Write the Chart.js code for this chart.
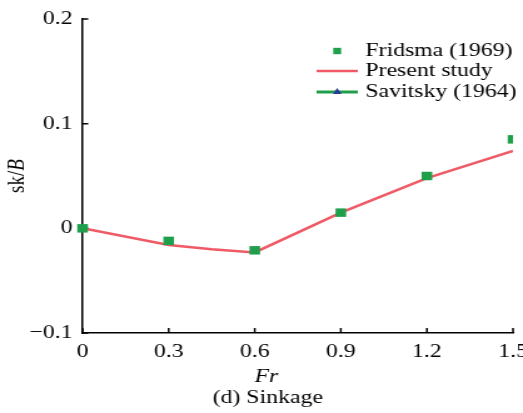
<!DOCTYPE html>
<html>
<head>
<meta charset="utf-8">
<script src="https://cdn.jsdelivr.net/npm/chart.js@4/dist/chart.umd.min.js"></script>
<style>
  html, body { margin: 0; padding: 0; background: #fff; }
  canvas { display: block; }
</style>
</head>
<body>
<canvas id="sinkageChart"></canvas>
<script>
// Froude number vs. non-dimensional sinkage
const fridsmaFr = [0, 0.3, 0.6, 0.9, 1.2, 1.5];
const fridsmaSinkage = [0, -0.012, -0.021, 0.015, 0.050, 0.085];

const presentFr = [0, 0.3, 0.45, 0.6, 0.9, 1.2, 1.5];
const presentSinkage = [0, -0.016, -0.020, -0.023, 0.015, 0.048, 0.074];

const savitskyFr = [];
const savitskySinkage = [];

const xTicks = [0, 0.3, 0.6, 0.9, 1.2, 1.5];
const yTicks = [-0.1, 0, 0.1, 0.2];

const GREEN = '#1f9f4c';
const RED = '#ef5a66';
const BLUE = '#2a3a9a';
const SERIF = '"Liberation Serif", "Times New Roman", serif';

// the figure is drawn narrow and shown stretched wide
const STRETCH = 1.25;
const canvas = document.getElementById('sinkageChart');
canvas.width = Math.round(523 / STRETCH);
canvas.height = 413;
canvas.style.width = '523px';
canvas.style.height = '413px';

const toPoints = (xs, ys) => xs.map((x, i) => ({ x: x, y: ys[i] }));
const fmt = v => (v === 0 ? '0' : v.toFixed(1).replace('-', '\u2212'));

// inward ticks, in-plot legend and axis captions
const decor = {
  id: 'decor',
  beforeDatasetsDraw(chart) {
    const { ctx, chartArea: a, scales: { x, y } } = chart;
    ctx.save();
    ctx.strokeStyle = '#000';
    ctx.lineWidth = 1.5;
    ctx.beginPath();
    x.ticks.forEach(t => {
      const px = x.getPixelForValue(t.value);
      ctx.moveTo(px, a.bottom);
      ctx.lineTo(px, a.bottom - 5);
    });
    y.ticks.forEach(t => {
      const py = y.getPixelForValue(t.value);
      ctx.moveTo(a.left, py);
      ctx.lineTo(a.left + 4.5, py);
    });
    ctx.stroke();
    ctx.restore();
  },
  afterDraw(chart) {
    const { ctx } = chart;
    ctx.save();

    // legend
    const x0 = 253, x1 = 286, tx = 292;
    const rows = [51, 71, 92];
    chart.data.datasets.forEach((ds, i) => {
      const cy = rows[i];
      if (ds.showLine !== false) {
        ctx.strokeStyle = ds.borderColor;
        ctx.lineWidth = ds.borderWidth;
        ctx.beginPath();
        ctx.moveTo(x0, cy);
        ctx.lineTo(x1, cy);
        ctx.stroke();
      }
      if (ds.legendRadius) {
        ctx.fillStyle = ds.pointBackgroundColor || ds.backgroundColor;
        Chart.helpers.drawPoint(ctx, {
          pointStyle: ds.pointStyle, radius: ds.legendRadius, borderWidth: 0
        }, (x0 + x1) / 2, cy);
      }
      ctx.fillStyle = '#000';
      ctx.font = '19px ' + SERIF;
      ctx.textAlign = 'left';
      ctx.textBaseline = 'middle';
      ctx.fillText(ds.label, tx, cy);
    });

    // x caption
    ctx.fillStyle = '#000';
    ctx.textAlign = 'center';
    ctx.textBaseline = 'middle';
    ctx.font = 'italic 19px ' + SERIF;
    ctx.fillText('Fr', 213, 377);
    ctx.font = '19px ' + SERIF;
    ctx.fillText('(d) Sinkage', 214, 398);

    // y caption: sk/B with italic B
    ctx.translate(14, 176);
    ctx.rotate(-Math.PI / 2);
    const up = '19px ' + SERIF, it = 'italic 19px ' + SERIF;
    ctx.font = up;
    const w1 = ctx.measureText('sk/').width;
    ctx.font = it;
    const w2 = ctx.measureText('B').width;
    ctx.textAlign = 'left';
    ctx.font = up;
    ctx.fillText('sk/', -(w1 + w2) / 2, 0);
    ctx.font = it;
    ctx.fillText('B', -(w1 + w2) / 2 + w1, 0);

    ctx.restore();
  }
};

Chart.defaults.font.family = SERIF;
Chart.defaults.font.size = 19;
Chart.defaults.color = '#000';

new Chart(canvas, {
  type: 'line',
  data: {
    datasets: [
      {
        label: 'Fridsma (1969)',
        data: toPoints(fridsmaFr, fridsmaSinkage),
        showLine: false,
        pointStyle: 'rect',
        pointRadius: 6,
        pointBorderWidth: 0,
        backgroundColor: GREEN,
        borderColor: GREEN,
        legendRadius: 4.5,
        // cut the last marker at the right edge of the plot
        clip: { left: 20, top: 20, right: 0, bottom: 20 }
      },
      {
        label: 'Present study',
        data: toPoints(presentFr, presentSinkage),
        borderColor: RED,
        borderWidth: 2.5,
        pointRadius: 0,
        tension: 0,
        fill: false
      },
      {
        label: 'Savitsky (1964)',
        data: toPoints(savitskyFr, savitskySinkage),
        borderColor: GREEN,
        borderWidth: 3,
        pointStyle: 'triangle',
        pointRadius: 4,
        pointBackgroundColor: BLUE,
        pointBorderColor: BLUE,
        legendRadius: 4
      }
    ]
  },
  options: {
    responsive: false,
    animation: false,
    devicePixelRatio: 1,
    layout: { padding: { top: 19, right: 8, left: 0, bottom: 0 } },
    plugins: {
      legend: { display: false },
      tooltip: { enabled: false }
    },
    scales: {
      x: {
        type: 'linear',
        min: 0,
        max: 1.5,
        afterBuildTicks: s => { s.ticks = xTicks.map(v => ({ value: v })); },
        afterFit: s => { s.height = 80; s.paddingLeft = 0; s.paddingRight = 0; },
        ticks: { padding: 8, maxRotation: 0, autoSkip: false, callback: v => fmt(v) },
        grid: { display: false, drawTicks: false },
        border: { color: '#000', width: 1.5 }
      },
      y: {
        type: 'linear',
        min: -0.1,
        max: 0.2,
        afterBuildTicks: s => { s.ticks = yTicks.map(v => ({ value: v })); },
        afterFit: s => { s.width = 66; s.paddingTop = 0; s.paddingBottom = 0; },
        ticks: { padding: 8, autoSkip: false, callback: v => fmt(v) },
        grid: { display: false, drawTicks: false },
        border: { color: '#000', width: 1.5 }
      }
    }
  },
  plugins: [decor]
});
</script>
</body>
</html>
